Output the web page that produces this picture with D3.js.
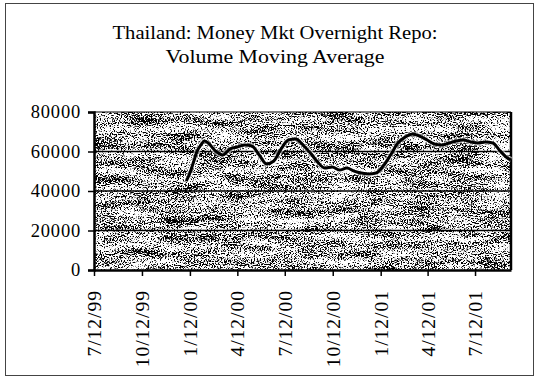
<!DOCTYPE html>
<html>
<head>
<meta charset="utf-8">
<script src="https://cdn.jsdelivr.net/npm/d3@7"></script>
<style>
  html, body { margin: 0; padding: 0; background: #fff; }
  svg text { font-family: "Liberation Serif", "Times New Roman", serif; fill: #000; }
</style>
</head>
<body>
<svg id="chart" width="535" height="378"></svg>
<script>
// Overnight repo volume, moving average (millions of baht)
const dates = [
  "2000-01-05","2000-01-12","2000-01-19","2000-01-26","2000-02-02","2000-02-09","2000-02-16",
  "2000-03-01","2000-03-15","2000-03-29","2000-04-12","2000-04-26","2000-05-10","2000-05-24",
  "2000-06-07","2000-06-21","2000-07-05","2000-07-19","2000-08-02","2000-08-16","2000-08-30",
  "2000-09-13","2000-09-27","2000-10-11","2000-10-25","2000-11-08","2000-11-22","2000-12-06",
  "2000-12-20","2001-01-03","2001-01-17","2001-01-31","2001-02-14","2001-02-28","2001-03-14",
  "2001-03-28","2001-04-11","2001-04-25","2001-05-09","2001-05-23","2001-06-06","2001-06-20",
  "2001-07-04","2001-07-18","2001-08-01","2001-08-15","2001-08-29","2001-09-12","2001-09-19"
];
const volume = [
  45000, 49100, 54700, 60300, 63300, 65300, 64300,
  60300, 58200, 61300, 62300, 63300, 62800, 58200,
  53700, 55200, 61300, 65800, 66300, 63300, 59200,
  54700, 51600, 52200, 50600, 51600, 50100, 49100,
  48600, 49100, 52700, 58200, 64300, 67300, 68900,
  67800, 65800, 63800, 63300, 64300, 65300, 65800,
  64800, 64300, 64800, 64300, 60300, 56700, 55700
];
const tickDates = ["1999-07-12","1999-10-12","2000-01-12","2000-04-12","2000-07-12",
                   "2000-10-12","2001-01-12","2001-04-12","2001-07-12"];
const tickLabels = ["7/12/99","10/12/99","1/12/00","4/12/00","7/12/00",
                    "10/12/00","1/12/01","4/12/01","7/12/01"];
const yTicks = [0, 20000, 40000, 60000, 80000];
const titleLines = ["Thailand: Money Mkt Overnight Repo:", "Volume Moving  Average"];
const titleWidths = [325, 219];

const parse = d3.utcParse("%Y-%m-%d");
const data = dates.map((d, i) => ({ date: parse(d), value: volume[i] }));

const svg = d3.select("#chart");
const plot = { left: 94, right: 511, top: 112, bottom: 270 };

// outer frame
svg.append("rect")
  .attr("x", 5.5).attr("y", 3.5).attr("width", 528).attr("height", 372)
  .attr("fill", "#fff").attr("stroke", "#444").attr("stroke-width", 1);

// title
svg.append("g").selectAll("text").data(titleLines).join("text")
  .attr("x", 275).attr("y", (d, i) => 38.5 + i * 24.5)
  .attr("text-anchor", "middle")
  .attr("font-size", 19.5)
  .attr("textLength", (d, i) => titleWidths[i])
  .attr("lengthAdjust", "spacingAndGlyphs")
  .text(d => d);

const x = d3.scaleUtc()
  .domain([parse("1999-07-12"), parse("2001-09-19")])
  .range([plot.left, plot.right]);
const y = d3.scaleLinear().domain([0, 80000]).range([plot.bottom, plot.top]);

// speckled plot-area fill: streaky coarse noise plus fine grain, thresholded
const defs = svg.append("defs");
const f = defs.append("filter").attr("id", "grain")
  .attr("x", 0).attr("y", 0).attr("width", 1).attr("height", 1)
  .attr("color-interpolation-filters", "sRGB");
const opaque = "1 0 0 0 0  0 1 0 0 0  0 0 1 0 0  0 0 0 0 1";
f.append("feTurbulence").attr("type", "fractalNoise")
  .attr("baseFrequency", "0.025 0.12").attr("numOctaves", 3).attr("seed", 11).attr("result", "band0");
f.append("feColorMatrix").attr("in", "band0").attr("type", "matrix").attr("values", opaque).attr("result", "band");
f.append("feTurbulence").attr("type", "fractalNoise")
  .attr("baseFrequency", "0.7 0.9").attr("numOctaves", 2).attr("seed", 5).attr("result", "fine0");
f.append("feColorMatrix").attr("in", "fine0").attr("type", "matrix").attr("values", opaque).attr("result", "fine");
f.append("feComposite").attr("in", "band").attr("in2", "fine").attr("operator", "arithmetic")
  .attr("k2", 0.6).attr("k3", 1.4).attr("k4", -0.5).attr("result", "mix");
f.append("feColorMatrix").attr("in", "mix").attr("type", "matrix")
  .attr("values", "0 0 0 0 0  0 0 0 0 0  0 0 0 0 0  3 0 0 0 -1.25");
const ct = f.append("feComponentTransfer");
ct.append("feFuncA").attr("type", "discrete").attr("tableValues", "0 0.1 0.4 0.75 1 1");

svg.append("rect")
  .attr("x", plot.left).attr("y", plot.top)
  .attr("width", plot.right - plot.left).attr("height", plot.bottom - plot.top)
  .attr("fill", "#fff");
svg.append("rect")
  .attr("x", plot.left).attr("y", plot.top)
  .attr("width", plot.right - plot.left).attr("height", plot.bottom - plot.top)
  .attr("fill", "#111").attr("filter", "url(#grain)");

// gridlines
svg.append("g").selectAll("line").data(yTicks.filter(v => v > 0 && v < 80000)).join("line")
  .attr("x1", plot.left).attr("x2", plot.right)
  .attr("y1", d => y(d)).attr("y2", d => y(d))
  .attr("stroke", "#000").attr("stroke-width", 1.5);

// plot frame
svg.append("line").attr("x1", plot.left).attr("x2", plot.right)
  .attr("y1", plot.top).attr("y2", plot.top).attr("stroke", "#000").attr("stroke-width", 1.2);
svg.append("line").attr("x1", plot.right).attr("x2", plot.right)
  .attr("y1", plot.top).attr("y2", plot.bottom).attr("stroke", "#000").attr("stroke-width", 2.5);

// series line, with a faint light edge so it reads over the speckle
const line = d3.line().x(d => x(d.date)).y(d => y(d.value)).curve(d3.curveMonotoneX);
svg.append("path").datum(data)
  .attr("fill", "none").attr("stroke", "#fff").attr("stroke-opacity", 0.55)
  .attr("stroke-width", 6).attr("stroke-linejoin", "round").attr("d", line);
svg.append("path").datum(data)
  .attr("fill", "none").attr("stroke", "#000").attr("stroke-width", 3)
  .attr("stroke-linejoin", "round").attr("d", line);

// y axis
const yAxis = svg.append("g").attr("transform", `translate(${plot.left},0)`)
  .call(d3.axisLeft(y).tickValues(yTicks).tickFormat(d3.format("d")).tickSize(6).tickPadding(7));
yAxis.select(".domain").attr("stroke-width", 2.5);
yAxis.selectAll(".tick line").attr("stroke-width", 1.5);
yAxis.selectAll("text").attr("font-size", 18.5)
  .attr("font-family", "Liberation Serif, Times New Roman, serif")
  .style("letter-spacing", "0.8px");

// x axis
const xAxis = svg.append("g").attr("transform", `translate(0,${plot.bottom})`)
  .call(d3.axisBottom(x).tickValues(tickDates.map(parse))
    .tickFormat((d, i) => tickLabels[i]).tickSize(6).tickSizeOuter(0));
xAxis.select(".domain").attr("stroke-width", 2.5);
xAxis.selectAll(".tick line").attr("stroke-width", 1.5);
xAxis.selectAll("text")
  .attr("font-size", 19.5)
  .attr("font-family", "Liberation Serif, Times New Roman, serif")
  .attr("transform", "rotate(-90)")
  .attr("text-anchor", "end")
  .attr("dx", "-20px").attr("dy", "0.33em")
  .attr("x", 0).attr("y", 0)
  .style("letter-spacing", "1px");
</script>
</body>
</html>
